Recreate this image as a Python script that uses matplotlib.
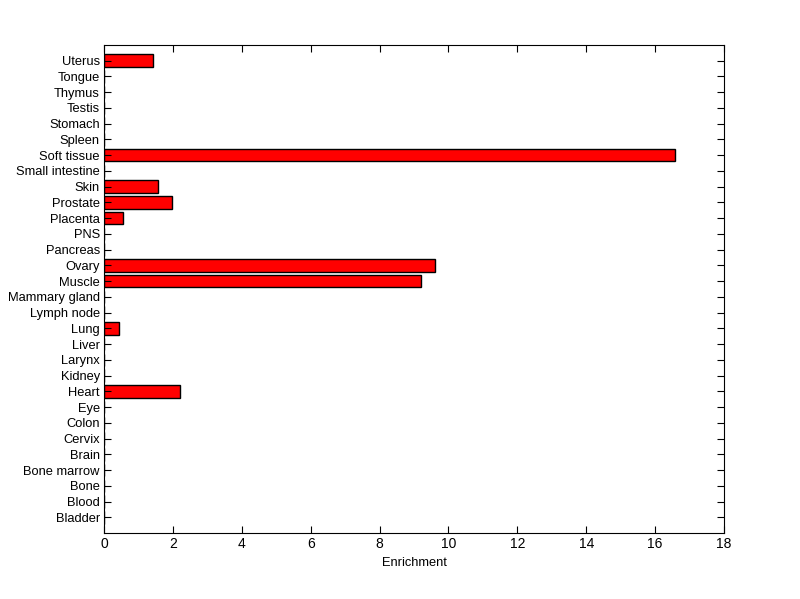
import matplotlib
matplotlib.use("Agg")
import matplotlib.pyplot as plt

# tissue categories, bottom to top
tissues = ["Bladder", "Blood", "Bone", "Bone marrow", "Brain", "Cervix", "Colon",
           "Eye", "Heart", "Kidney", "Larynx", "Liver", "Lung", "Lymph node",
           "Mammary gland", "Muscle", "Ovary", "Pancreas", "PNS", "Placenta",
           "Prostate", "Skin", "Small intestine", "Soft tissue", "Spleen",
           "Stomach", "Testis", "Thymus", "Tongue", "Uterus"]
enrichment = [0, 0, 0, 0, 0, 0, 0,
              0, 2.22, 0, 0, 0, 0.44, 0,
              0, 9.19, 9.60, 0, 0, 0.56,
              1.96, 1.58, 0, 16.57, 0,
              0, 0, 0, 0, 1.43]
xticks = [0, 2, 4, 6, 8, 10, 12, 14, 16, 18]

plt.rcParams['font.family'] = ['Liberation Sans', 'DejaVu Sans']

fig = plt.figure(figsize=(8, 5.99), dpi=100)
ax = fig.add_axes([0.13, 0.11, 0.775, 0.815])

pos = list(range(1, len(tissues) + 1))
ax.barh(pos, enrichment, height=0.8, color="red", edgecolor="black", linewidth=1)

ax.set_xlim(0, 18)
ax.set_ylim(0, len(tissues) + 1)
ax.set_xticks(xticks)
ax.set_yticks(pos)
ax.set_yticklabels(tissues)
ax.set_xlabel("Enrichment", fontsize=9.3, labelpad=4)

ax.tick_params(axis="both", which="both", direction="in", top=True, right=True,
               labelsize=9.3, length=5, width=0.8, pad=3)
ax.tick_params(axis="x", labelsize=10)
for s in ax.spines.values():
    s.set_linewidth(0.8)

fig.savefig("out.png", dpi=100)
